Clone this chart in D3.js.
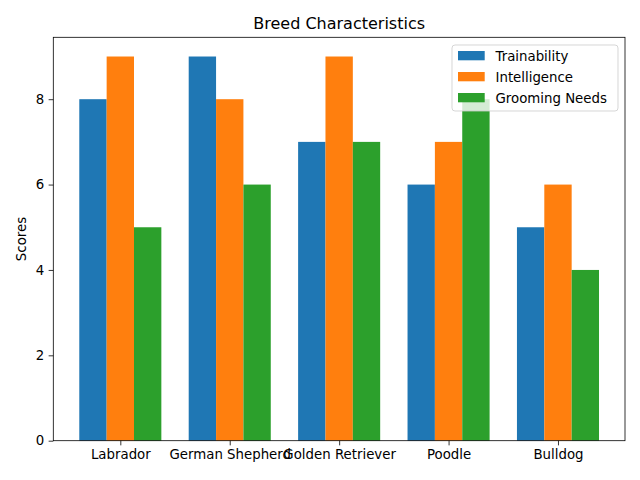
<!DOCTYPE html>
<html><head><meta charset="utf-8">
<script src="https://cdn.jsdelivr.net/npm/d3@7"></script>
<style>body{margin:0;background:#fff}svg{display:block;font-family:"DejaVu Sans",sans-serif}</style>
</head><body>
<script>
const categories = ["Labrador","German Shepherd","Golden Retriever","Poodle","Bulldog"];
const seriesNames = ["Trainability","Intelligence","Grooming Needs"];
const trainability = [8,9,7,6,5];
const intelligence = [9,8,9,7,6];
const grooming = [5,6,7,8,4];
const yTicks = [0,2,4,6,8];
const colors = ["#1f77b4","#ff7f0e","#2ca02c"];
const series = [trainability, intelligence, grooming];

const W=640,H=480, L=53.3, R=625, T=37.3, B=440.7;
const svg=d3.select("body").append("svg").attr("width",W).attr("height",H);
const bw=0.25;
const x=d3.scaleLinear().domain([-0.6125,4.6125]).range([L,R]);
const y=d3.scaleLinear().domain([0,9.45]).range([B,T]);

series.forEach((s,si)=>{
  svg.append("g").selectAll("rect").data(s).join("rect")
    .attr("x",(d,i)=>x(i+(si-1)*bw-bw/2))
    .attr("width",(d,i)=>x(i+(si-1)*bw+bw/2)-x(i+(si-1)*bw-bw/2))
    .attr("y",d=>y(d)).attr("height",d=>B-y(d))
    .attr("fill",colors[si]);
});

// axes
const xa=svg.append("g").attr("transform",`translate(0,${B})`)
  .call(d3.axisBottom(x).tickValues(d3.range(categories.length)).tickFormat(i=>categories[i]).tickSize(4.67).tickPadding(4.5));
const ya=svg.append("g").attr("transform",`translate(${L},0)`)
  .call(d3.axisLeft(y).tickValues(yTicks).tickSize(4.67).tickPadding(4.5));
[xa,ya].forEach(a=>{a.select(".domain").remove();a.selectAll("text").attr("font-size","13.33px").attr("fill","#000").attr("font-family","DejaVu Sans");a.selectAll("line").attr("stroke","#000").attr("stroke-width",0.8);});

svg.append("rect").attr("x",L).attr("y",T).attr("width",R-L).attr("height",B-T)
  .attr("fill","none").attr("stroke","#000").attr("stroke-width",0.8);

svg.append("text").attr("x",(L+R)/2).attr("y",T-8.5).attr("text-anchor","middle")
  .attr("font-size","16px").text("Breed Characteristics");
svg.append("text").attr("transform",`translate(${21},${(T+B)/2}) rotate(-90)`)
  .attr("text-anchor","middle").attr("dominant-baseline","central").attr("font-size","13.33px").text("Scores");

// legend
const lg=svg.append("g");
lg.append("rect").attr("x",452).attr("y",45).attr("width",166).attr("height",66).attr("rx",3)
  .attr("fill","#fff").attr("fill-opacity",0.8).attr("stroke","#ccc").attr("stroke-opacity",0.8);
seriesNames.forEach((n,i)=>{
  const cy=56+i*21;
  lg.append("rect").attr("x",458).attr("y",cy-5).attr("width",26.7).attr("height",9.3).attr("fill",colors[i]);
  lg.append("text").attr("x",495.5).attr("y",cy).attr("dominant-baseline","central").attr("font-size","13.33px").text(n);
});
</script>
</body></html>
